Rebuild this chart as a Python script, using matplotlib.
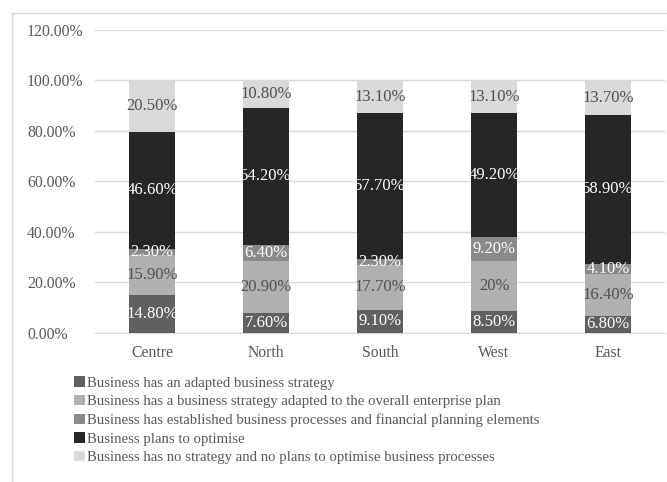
import matplotlib.pyplot as plt
from matplotlib.lines import Line2D
import numpy as np

plt.rcParams['font.family'] = ['Liberation Serif', 'DejaVu Serif']

regions = ['Centre', 'North', 'South', 'West', 'East']
series_names = [
    'Business has an adapted business strategy',
    'Business has a business strategy adapted to the overall enterprise plan',
    'Business has established business processes and financial planning elements',
    'Business plans to optimise',
    'Business has no strategy and no plans to optimise business processes',
]
adapted = [14.80, 7.60, 9.10, 8.50, 6.80]
adapted_plan = [15.90, 20.90, 17.70, 20.00, 16.40]
established = [2.30, 6.40, 2.30, 9.20, 4.10]
plans = [46.60, 54.20, 57.70, 49.20, 58.90]
no_strategy = [20.50, 10.80, 13.10, 13.10, 13.70]
y_ticks = [0, 20, 40, 60, 80, 100, 120]

all_series = [adapted, adapted_plan, established, plans, no_strategy]
colors = ['#606060', '#b0b0b0', '#8a8a8a', '#262626', '#d9d9d9']
text_colors = ['white', '#505050', 'white', 'white', '#505050']
grey = '#595959'

fig = plt.figure(figsize=(6.67, 4.82), dpi=100)
ax = fig.add_axes([95 / 667, 1 - 332.7 / 482, 570 / 667, 303.2 / 482])

x = np.arange(len(regions))
bottom = np.zeros(len(regions))
for vals, name, c, tc in zip(all_series, series_names, colors, text_colors):
    vals = np.array(vals)
    ax.bar(x, vals, 0.4, bottom=bottom, color=c, label=name, zorder=3)
    for xi, b, v in zip(x, bottom, vals):
        lab = '%d%%' % v if v == int(v) else '%.2f%%' % v
        ax.text(xi, b + v / 2, lab, ha='center', va='center', color=tc,
                fontsize=12, zorder=4)
    bottom += vals

ax.set_xlim(-0.5, len(regions) - 0.5)
ax.set_ylim(0, 120)
ax.set_yticks(y_ticks)
ax.set_yticklabels(['%.2f%%' % t for t in y_ticks])
for lab in ax.get_yticklabels():
    lab.set_horizontalalignment('left')
ax.tick_params(axis='y', length=0, pad=49, labelsize=11.3, labelcolor=grey)
ax.set_xticks(x)
ax.set_xticklabels(regions)
ax.tick_params(axis='x', length=0, pad=9, labelsize=11.3, labelcolor=grey)
ax.grid(axis='y', color='#d9d9d9', linewidth=1, zorder=0)
for s in ['top', 'right', 'left']:
    ax.spines[s].set_visible(False)
ax.spines['bottom'].set_color('#d9d9d9')
ax.spines['bottom'].set_zorder(2)

# outer frame of chart area
fig.add_artist(Line2D([11.5 / 667, 11.5 / 667], [0, 1 - 13 / 482],
                      color='#d9d9d9', lw=1, transform=fig.transFigure))
fig.add_artist(Line2D([11.5 / 667, 1], [1 - 13 / 482, 1 - 13 / 482],
                      color='#d9d9d9', lw=1, transform=fig.transFigure))

fig.legend(loc='upper left', bbox_to_anchor=(67 / 667, 1 - 369 / 482),
           frameon=False, fontsize=10.6, handlelength=0.7, handleheight=0.7,
           handletextpad=0.15, labelspacing=0.35, borderpad=0,
           labelcolor=grey)

fig.savefig('out.png', dpi=100)
